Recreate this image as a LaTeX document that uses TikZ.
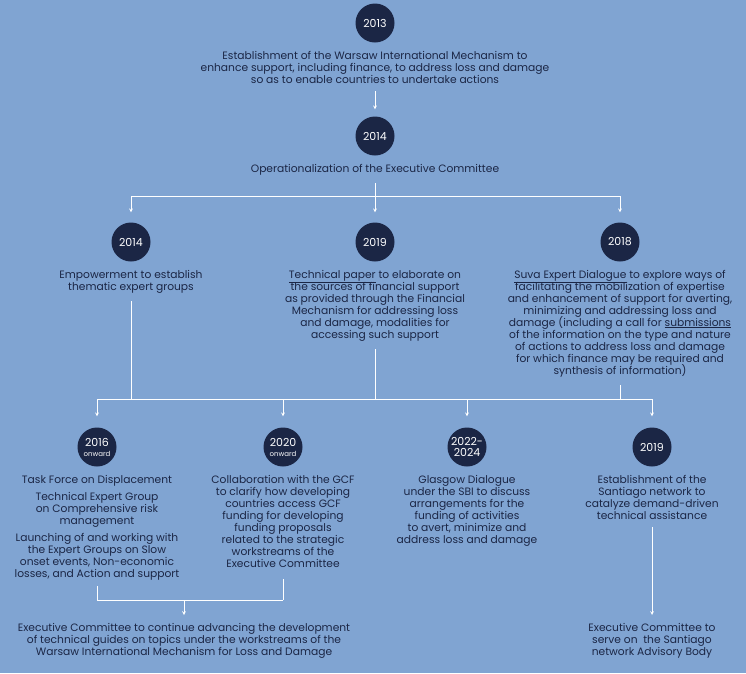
\documentclass[tikz,border=0pt]{standalone}
\usepackage{fontspec}
\setmainfont{Poppins}
\usetikzlibrary{arrows}
\usetikzlibrary{positioning}

\definecolor{bgblue}{HTML}{80A4D2}
\definecolor{navy}{HTML}{1B2645}

% keep the line pitch even with the tall glyphs of the font
\setlength{\lineskiplimit}{-100pt}
\setlength{\lineskip}{0pt}

\tikzset{
  yr/.style={circle, fill=navy, text=white, minimum size=39pt, inner sep=0pt, align=center,
    font=\fontsize{11}{10}\selectfont},
  txt/.style={text=navy, align=center, inner sep=0pt, font=\fontsize{10.7}{12}\selectfont},
  link/.style={draw=white, line width=0.7pt}
}

\begin{document}
\begin{tikzpicture}[x=1pt, y=-1pt, >=stealth]
  \useasboundingbox[fill=bgblue] (0,0) rectangle (746,673);

  % top of the timeline
  \node[yr] (y13) at (375,23) {2013};
  \node[txt, below=8pt of y13] (t13) {Establishment of the Warsaw International Mechanism to\\
    enhance support, including finance, to address loss and damage\\
    so as to enable countries to undertake actions};
  \node[yr] (y14) at (375,136) {2014};
  \node[txt, below=8pt of y14] (t14) {Operationalization of the Executive Committee};

  % second row
  \node[yr] (ya) at (131,242) {2014};
  \node[yr] (yb) at (375,242) {2019};
  \node[yr] (yc) at (620,242) {2018};
  \node[txt, below=8pt of ya] (ta) {Empowerment to establish\\ thematic expert groups};
  \node[txt, below=8pt of yb] (tb) {\underline{Technical paper} to elaborate on\\
    the sources of financial support\\ as provided through the Financial\\
    Mechanism for addressing loss\\ and damage, modalities for\\ accessing such support};
  \node[txt, below=8pt of yc] (tc) {\underline{Suva Expert Dialogue} to explore ways of\\
    facilitating the mobilization of expertise\\
    and enhancement of support for averting,\\
    minimizing and addressing loss and\\
    damage (including a call for \underline{submissions}\\
    of the information on the type and nature\\
    of actions to address loss and damage\\
    for which finance may be required and\\
    synthesis of information)};

  % third row
  \node[yr] (yd) at (97,447) {2016\\{\fontsize{7}{7}\selectfont onward}};
  \node[yr] (ye) at (283,447) {2020\\{\fontsize{7}{7}\selectfont onward}};
  \node[yr] (yf) at (467,447) {2022-\\[1pt]2024};
  \node[yr] (yg) at (652,447) {2019};
  \node[txt, below=8pt of yd] (td) {Task Force on Displacement\\[5pt]
    Technical Expert Group\\ on Comprehensive risk\\ management\\[5pt]
    Launching of and working with\\ the Expert Groups on Slow\\
    onset events, Non-economic\\ losses, and Action and support};
  \node[txt, below=8pt of ye] (te) {Collaboration with the GCF\\
    to clarify how developing\\ countries access GCF\\ funding for developing\\
    funding proposals\\ related to the strategic\\ workstreams of the\\ Executive Committee};
  \node[txt, below=8pt of yf] (tf) {Glasgow Dialogue\\ under the SBI to discuss\\
    arrangements for the\\ funding of activities\\ to avert, minimize and\\
    address loss and damage};
  \node[txt, below=8pt of yg] (tg) {Establishment of the\\ Santiago network to\\
    catalyze demand-driven\\ technical assistance};

  % bottom row
  \node[txt, anchor=north] (th) at (184,623) {Executive Committee to continue advancing the development\\
    of technical guides on topics under the workstreams of the\\
    Warsaw International Mechanism for Loss and Damage};
  \node[txt, anchor=north] (ti) at (652,623) {Executive Committee to\\ serve on~ the Santiago\\
    network Advisory Body};

  % joints of the connectors
  \coordinate (bus1) at (375,196);
  \coordinate (bus2) at (375,399);
  \coordinate (bus3) at (184,600);

  \draw[link, ->, shorten <=8pt, shorten >=7pt] (t13) -- (y14);
  \draw[link, shorten <=8pt] (t14) -- (bus1);
  \draw[link] (ya |- bus1) -- (yc |- bus1);
  \foreach \n in {ya, yb, yc}
    \draw[link, ->, shorten >=10pt] (\n |- bus1) -- (\n);

  \foreach \n in {ta, tb, tc}
    \draw[link, shorten <=8pt] (\n) -- (\n |- bus2);
  \draw[link] (yd |- bus2) -- (yg |- bus2);
  \foreach \n in {yd, ye, yf, yg}
    \draw[link, ->, shorten >=11pt] (\n |- bus2) -- (\n);

  \draw[link, shorten <=6pt] (td) -- (td |- bus3);
  \draw[link, shorten <=12pt] (te) -- (te |- bus3);
  \draw[link] (td |- bus3) -- (te |- bus3);
  \draw[link, ->, shorten >=8pt] (bus3) -- (th);
  \draw[link, ->, shorten <=8pt, shorten >=8pt] (tg) -- (ti);
\end{tikzpicture}
\end{document}
